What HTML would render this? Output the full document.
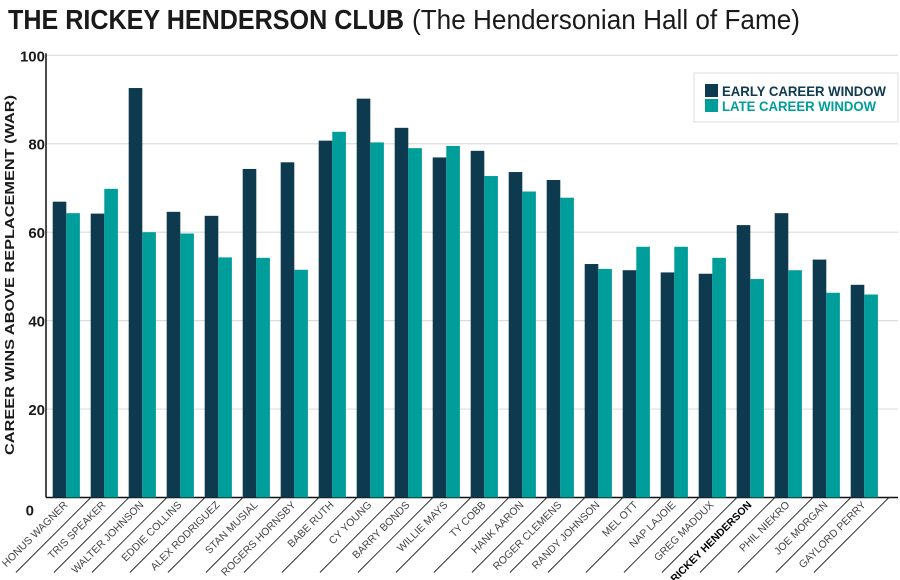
<!DOCTYPE html>
<html><head><meta charset="utf-8"><style>
html,body{margin:0;padding:0;background:#fff;}
svg{display:block;font-family:"Liberation Sans",sans-serif;}
</style></head><body>
<svg id="chart" width="900" height="580" viewBox="0 0 900 580" xmlns="http://www.w3.org/2000/svg">
<text x="8" y="29" font-size="28" font-weight="bold" fill="#1a1a1a" textLength="396" lengthAdjust="spacingAndGlyphs">THE RICKEY HENDERSON CLUB</text>
<text x="412" y="29" font-size="28" fill="#1a1a1a" textLength="388" lengthAdjust="spacingAndGlyphs">(The Hendersonian Hall of Fame)</text>
<text transform="translate(14,275) rotate(-90)" text-anchor="middle" font-size="13" font-weight="bold" fill="#1a1a1a" textLength="360" lengthAdjust="spacingAndGlyphs">CAREER WINS ABOVE REPLACEMENT (WAR)</text>
<g id="grid"></g><g id="bars"></g><g id="labels"></g>
<g>
<rect x="694" y="73" width="204" height="49" fill="#fff" stroke="#ddd" stroke-width="1"/>
<rect x="705" y="84" width="13" height="13" fill="#0d3a4f"/>
<text x="722" y="96" font-size="14" font-weight="bold" fill="#0d3a4f" textLength="164" lengthAdjust="spacingAndGlyphs">EARLY CAREER WINDOW</text>
<rect x="705" y="99" width="13" height="13" fill="#009e9a"/>
<text x="722" y="111" font-size="14" font-weight="bold" fill="#009e9a" textLength="154" lengthAdjust="spacingAndGlyphs">LATE CAREER WINDOW</text>
</g>
</svg>
<script>
const players=["HONUS WAGNER","TRIS SPEAKER","WALTER JOHNSON","EDDIE COLLINS","ALEX RODRIGUEZ","STAN MUSIAL","ROGERS HORNSBY","BABE RUTH","CY YOUNG","BARRY BONDS","WILLIE MAYS","TY COBB","HANK AARON","ROGER CLEMENS","RANDY JOHNSON","MEL OTT","NAP LAJOIE","GREG MADDUX","RICKEY HENDERSON","PHIL NIEKRO","JOE MORGAN","GAYLORD PERRY"];
const earlyWar=[66.9,64.2,92.6,64.6,63.7,74.3,75.8,80.7,90.2,83.6,76.9,78.4,73.6,71.8,52.8,51.4,50.9,50.6,61.6,64.3,53.8,48.1];
const lateWar=[64.3,69.8,60.0,59.7,54.3,54.2,51.5,82.7,80.3,79.0,79.5,72.7,69.2,67.8,51.7,56.7,56.7,54.2,49.4,51.4,46.3,45.9];
const yTicks=[0,20,40,60,80,100];
const NS="http://www.w3.org/2000/svg";
const y0=497.5,yTop=55.3,x0=46,xEnd=898,groupStart=52.7,step=38,bw=13.6;
function yScale(v){return y0-(v/100)*(y0-yTop);}
function xScale(i){return groupStart+i*step;}
function mk(tag,attrs,parent){const e=document.createElementNS(NS,tag);for(const k in attrs)e.setAttribute(k,attrs[k]);parent.appendChild(e);return e;}
const grid=document.getElementById('grid'),bars=document.getElementById('bars'),labels=document.getElementById('labels');
yTicks.forEach(t=>{
  const y=yScale(t);
  if(t>0){const l=mk('line',{x1:x0,x2:xEnd,y1:y,y2:y,stroke:'#dcdcdc','stroke-width':1.2},grid);
  
  }
  const tx=mk('text',{x:t===0?34:45,y:t===0?y+18:y+6,'text-anchor':'end','font-size':15,'font-weight':'bold',fill:'#1a1a1a'},grid);
  tx.textContent=t;
  
  
});
const ax=mk('line',{x1:x0,x2:x0,y1:yTop-2,y2:y0,stroke:'#111','stroke-width':1.5},grid);


const bl=mk('line',{x1:x0,x2:xEnd,y1:y0,y2:y0,stroke:'#111','stroke-width':1.5},grid);


players.forEach((p,i)=>{
  const x=xScale(i);
  const ye=yScale(earlyWar[i]),yl=yScale(lateWar[i]);
  const b1=mk('rect',{x:x,y:ye,width:bw,height:y0-ye,fill:'#0d3a4f'},bars);
  
  
  const b2=mk('rect',{x:x+bw,y:yl,width:bw,height:y0-yl,fill:'#009e9a'},bars);
  
  
  const lx=x+bw*2+11;
  const ln=mk('line',{x1:lx,y1:y0,x2:lx-75,y2:y0+75,stroke:'#222','stroke-width':0.9},labels);
  
  
  const isR=p==="RICKEY HENDERSON";
  const t=mk('text',{transform:`translate(${x+bw+2},${y0+8}) rotate(-45)`,'text-anchor':'end','font-size':10.5,'font-weight':isR?'bold':'normal',fill:isR?'#000':'#444'},labels);
  t.textContent=p;
  
  
});
</script>
</body></html>
